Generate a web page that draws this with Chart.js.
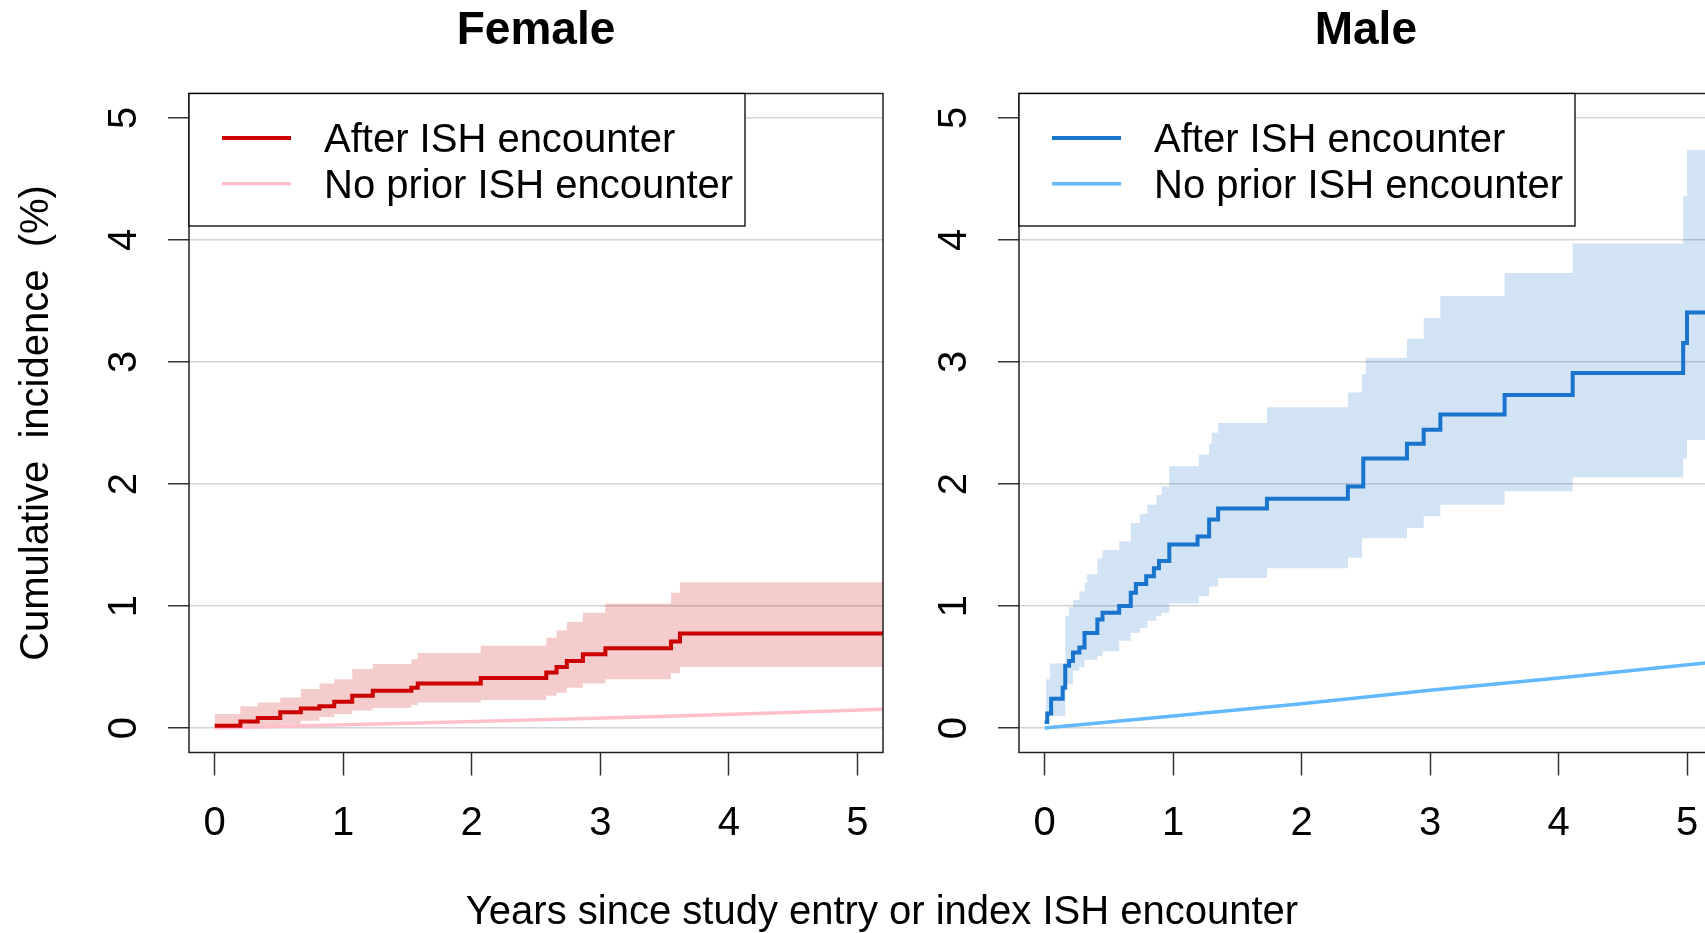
<!DOCTYPE html>
<html>
<head>
<meta charset="utf-8">
<script src="https://cdn.jsdelivr.net/npm/chart.js@4.4.1/dist/chart.umd.min.js"></script>
<style>
  html, body { margin: 0; padding: 0; background: #fff; }
  #wrap { position: relative; width: 1705px; height: 933px; overflow: hidden; }
  canvas { position: absolute; left: 0; top: 0; }
</style>
</head>
<body>
<div id="wrap">
  <canvas id="female" width="1705" height="933"></canvas>
  <canvas id="male" width="1705" height="933"></canvas>
</div>
<script>
// labels
const seriesLabels = ['After ISH encounter', 'No prior ISH encounter'];
const panelTitles = ['Female', 'Male'];
const xTitle = 'Years since study entry or index ISH encounter';
const yTitle = 'Cumulative  incidence  (%)';
const xTicks = [0, 1, 2, 3, 4, 5];
const yTicks = [0, 1, 2, 3, 4, 5];

// Female, after ISH encounter (estimate + 95% band)
const femAfterT   = [0, 0.2, 0.335, 0.51, 0.67, 0.815, 0.93, 1.07, 1.23, 1.53, 1.58, 2.07, 2.58, 2.66, 2.74, 2.865, 3.04, 3.55, 3.62, 5.2];
const femAfterEst = [0.02, 0.055, 0.083, 0.13, 0.16, 0.18, 0.215, 0.265, 0.305, 0.33, 0.365, 0.41, 0.455, 0.50, 0.55, 0.605, 0.655, 0.71, 0.775, 0.775];
const femAfterUp  = [0.115, 0.18, 0.21, 0.25, 0.32, 0.365, 0.40, 0.485, 0.525, 0.565, 0.615, 0.675, 0.74, 0.80, 0.87, 0.945, 1.02, 1.11, 1.195, 1.195];
const femAfterLo  = [0, 0, 0.01, 0.03, 0.06, 0.09, 0.115, 0.145, 0.165, 0.19, 0.21, 0.23, 0.265, 0.29, 0.33, 0.365, 0.40, 0.45, 0.50, 0.50];
// Female, no prior encounter
const femPriorT = [0, 0.7, 1.5, 2.6, 3.6, 4.4, 5.2];
const femPriorV = [0, 0.02, 0.04, 0.07, 0.10, 0.125, 0.155];

// Male, after ISH encounter
const maleAfterT   = [0, 0.02, 0.05, 0.14, 0.16, 0.19, 0.22, 0.27, 0.31, 0.41, 0.45, 0.58, 0.67, 0.71, 0.79, 0.85, 0.89, 0.97, 1.19, 1.28, 1.35, 1.73, 2.36, 2.48, 2.82, 2.95, 3.08, 3.58, 4.11, 4.97, 5.0, 5.2];
const maleAfterEst = [0.05, 0.12, 0.24, 0.33, 0.51, 0.55, 0.62, 0.66, 0.78, 0.89, 0.945, 1.0, 1.11, 1.18, 1.245, 1.31, 1.37, 1.505, 1.57, 1.71, 1.80, 1.88, 1.98, 2.21, 2.33, 2.445, 2.57, 2.73, 2.91, 3.155, 3.405, 3.405];
const maleBandT  = [0.01, 0.04, 0.16, 0.19, 0.22, 0.27, 0.31, 0.33, 0.41, 0.45, 0.58, 0.67, 0.74, 0.80, 0.87, 0.91, 0.97, 1.20, 1.28, 1.30, 1.35, 1.73, 2.36, 2.47, 2.50, 2.82, 2.95, 3.08, 3.58, 4.11, 4.97, 5.0, 5.2];
const maleBandUp = [0.40, 0.53, 0.92, 0.99, 1.05, 1.12, 1.19, 1.26, 1.39, 1.46, 1.53, 1.68, 1.755, 1.83, 1.91, 1.98, 2.145, 2.24, 2.33, 2.42, 2.50, 2.63, 2.75, 2.90, 3.035, 3.19, 3.36, 3.54, 3.73, 3.97, 4.36, 4.74, 4.74];
const maleBandLo = [0.10, 0.10, 0.36, 0.36, 0.47, 0.50, 0.56, 0.56, 0.59, 0.63, 0.715, 0.78, 0.82, 0.88, 0.92, 0.945, 1.02, 1.08, 1.16, 1.16, 1.23, 1.31, 1.395, 1.555, 1.555, 1.64, 1.735, 1.83, 1.94, 2.055, 2.21, 2.36, 2.36];
// Male, no prior encounter
const malePriorT = [0, 1, 2, 3, 4, 5.2];
const malePriorV = [0, 0.10, 0.20, 0.31, 0.41, 0.54];

const FONT = '"Liberation Sans", Arial, sans-serif';

function pts(t, v) {
    return t.map((x, i) => ({ x: x, y: v[i] }));
}

// box, titles, tick labels and legend drawn on top
const decor = {
    id: 'decor',
    afterDraw(chart, args, o) {
        let ctx = chart.ctx;
        let xs = chart.scales.x, ys = chart.scales.y, a = chart.chartArea;
        let bx0 = xs.getPixelForValue(-0.2), bx1 = xs.getPixelForValue(5.2);
        ctx.save();

        ctx.strokeStyle = '#222';
        ctx.lineWidth = 1.5;
        ctx.strokeRect(bx0, a.top, bx1 - bx0, a.bottom - a.top);

        ctx.fillStyle = '#000';
        ctx.textAlign = 'center';
        ctx.textBaseline = 'alphabetic';
        ctx.font = 'bold 46px ' + FONT;
        ctx.fillText(o.title, (bx0 + bx1) / 2, 44);

        ctx.font = '40px ' + FONT;
        xTicks.forEach(v => ctx.fillText(String(v), xs.getPixelForValue(v), 835));
        yTicks.forEach(v => {
            ctx.save();
            ctx.translate(a.left - 53, ys.getPixelForValue(v));
            ctx.rotate(-Math.PI / 2);
            ctx.fillText(String(v), 0, 0);
            ctx.restore();
        });

        if (o.axisTitles) {
            ctx.save();
            ctx.translate(47.5, (a.top + a.bottom) / 2);
            ctx.rotate(-Math.PI / 2);
            ctx.fillText(yTitle, 0, 0);
            ctx.restore();
            ctx.fillText(xTitle, 882, 924);
        }

        // legend
        let lx = a.left, ly = a.top, lw = 556, lh = 132.5;
        ctx.fillStyle = '#fff';
        ctx.fillRect(lx, ly, lw, lh);
        ctx.strokeStyle = '#000';
        ctx.lineWidth = 1.3;
        ctx.strokeRect(lx, ly, lw, lh);
        let rows = [44.5, 90.3];
        ctx.textAlign = 'left';
        [0, 1].forEach(i => {
            let ds = chart.data.datasets[i];
            let ry = ly + rows[i];
            ctx.strokeStyle = ds.borderColor;
            ctx.lineWidth = ds.borderWidth;
            ctx.beginPath();
            ctx.moveTo(lx + 33, ry);
            ctx.lineTo(lx + 102, ry);
            ctx.stroke();
            ctx.fillStyle = '#000';
            ctx.fillText(ds.label, lx + 135, ry + 14.3);
        });
        ctx.restore();
    }
};

function makeChart(id, p) {
    let ctx = document.getElementById(id).getContext('2d');
    return new Chart(ctx, {
        type: 'line',
        data: {
            datasets: [{
                label: seriesLabels[0],
                data: pts(p.estT, p.est),
                borderColor: p.dark,
                borderWidth: 4,
                stepped: 'before',
                pointRadius: 0,
                fill: false
            }, {
                label: seriesLabels[1],
                data: pts(p.priorT, p.prior),
                borderColor: p.light,
                borderWidth: 3.5,
                pointRadius: 0,
                fill: false
            }, {
                label: 'upper',
                data: pts(p.bandT, p.up),
                borderWidth: 0,
                borderColor: 'rgba(0,0,0,0)',
                backgroundColor: p.band,
                stepped: 'before',
                pointRadius: 0,
                fill: '+1'
            }, {
                label: 'lower',
                data: pts(p.bandT, p.lo),
                borderWidth: 0,
                borderColor: 'rgba(0,0,0,0)',
                stepped: 'before',
                pointRadius: 0,
                fill: false
            }]
        },
        options: {
            responsive: false,
            animation: false,
            devicePixelRatio: 1,
            layout: { padding: { left: 0, top: 93.5, right: p.padRight, bottom: 0 } },
            scales: {
                x: {
                    type: 'linear',
                    min: -0.2,
                    max: p.xMax,
                    afterBuildTicks: s => { s.ticks = xTicks.map(v => ({ value: v })); },
                    afterFit: s => { s.height = 180.5; },
                    ticks: { display: false },
                    grid: { drawOnChartArea: false, drawTicks: true, tickLength: 23, tickColor: '#333', tickWidth: 1.5 },
                    border: { display: false }
                },
                y: {
                    type: 'linear',
                    min: -0.2,
                    max: 5.2,
                    afterBuildTicks: s => { s.ticks = yTicks.map(v => ({ value: v })); },
                    afterFit: s => { s.width = p.leftW; },
                    ticks: { display: false },
                    grid: { color: '#d3d3d3', lineWidth: 1.5, tickLength: 21, tickColor: '#333', tickWidth: 1.5 },
                    border: { display: false }
                }
            },
            plugins: {
                legend: { display: false },
                tooltip: { enabled: false },
                decor: { title: p.title, axisTitles: p.axisTitles }
            }
        },
        plugins: [decor]
    });
}

makeChart('female', {
    title: panelTitles[0], axisTitles: true,
    estT: femAfterT, est: femAfterEst,
    bandT: femAfterT, up: femAfterUp, lo: femAfterLo,
    priorT: femPriorT, prior: femPriorV,
    dark: '#CC0000', light: '#FFC0CB', band: 'rgba(204,0,0,0.2)',
    xMax: 5.2, padRight: 822, leftW: 189
});

makeChart('male', {
    title: panelTitles[1], axisTitles: false,
    estT: maleAfterT, est: maleAfterEst,
    bandT: maleBandT, up: maleBandUp, lo: maleBandLo,
    priorT: malePriorT, prior: malePriorV,
    dark: '#1874CD', light: '#63B8FF', band: 'rgba(24,116,205,0.2)',
    xMax: 5.14, padRight: 0, leftW: 1019
});
</script>
</body>
</html>
